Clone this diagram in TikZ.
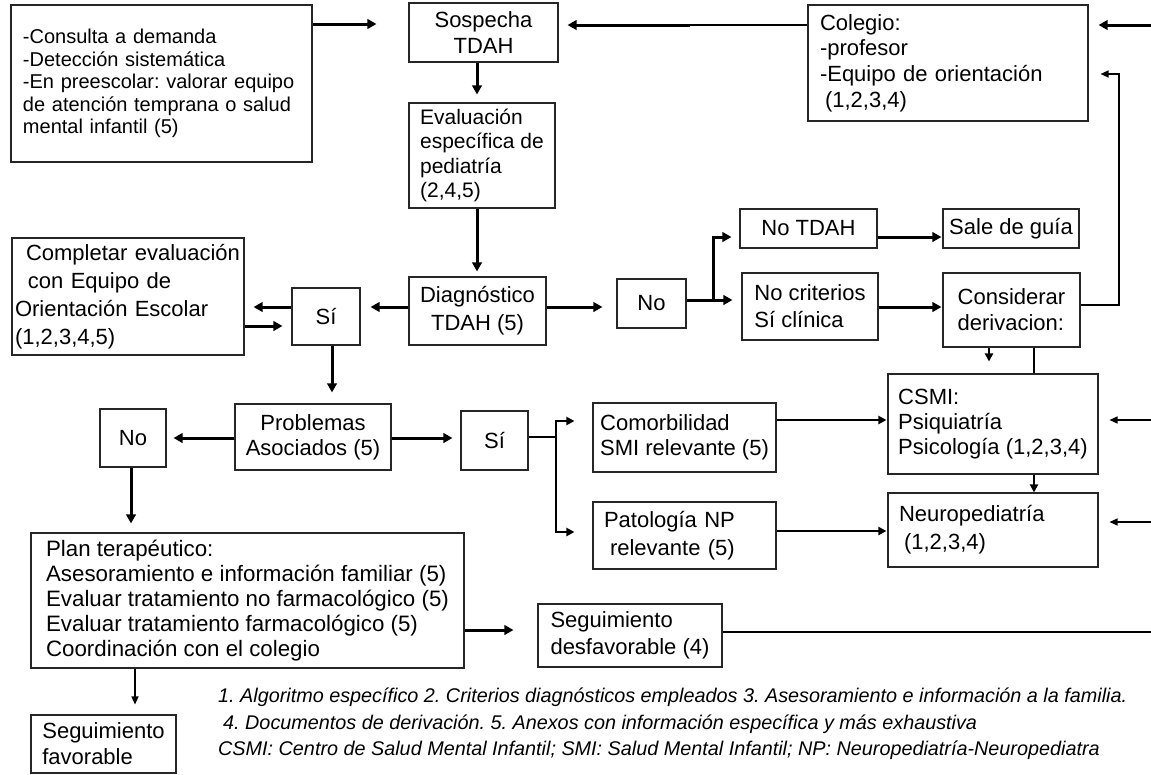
\documentclass[tikz,border=0pt]{standalone}
\usepackage{fontspec}
\setmainfont{Liberation Sans}
\usetikzlibrary{arrows.meta}
\frenchspacing
\begin{document}
\begin{tikzpicture}[x=1pt,y=-1pt,
  box/.style={draw=black!85, line width=1.1pt, inner sep=0pt, font=\fontsize{22}{25}\selectfont},
  conn/.style={line width=3pt, -{Triangle[length=9pt,width=9.5pt]}},
  midconn/.style={line width=2pt, -{Triangle[length=8pt,width=8pt]}},
  thinconn/.style={line width=1.3pt, -{Triangle[length=8pt,width=7pt]}},
  thinline/.style={line width=1.3pt},
  midline/.style={line width=2pt},
  note/.style={inner sep=0pt, font=\itshape\fontsize{19.8}{24}\selectfont}]
\useasboundingbox (0,0) rectangle (1151,774);
\fill[white] (0,0) rectangle (1151,774);

% level coordinates
\foreach \v in {24,25,74,237,300,305,307,326,420,421,437,438,522,531,532,630,632}
  \coordinate (h\v) at (0,\v);
\foreach \u in {131,135,332,477,556,713,989,1034}
  \coordinate (v\u) at (\u,0);
\coordinate (r25) at (1151,25);
\coordinate (r420) at (1151,420);
\coordinate (r522) at (1151,522);
\coordinate (r632) at (1151,632);
\coordinate (j25) at (690,25);
\coordinate (loopc) at (1119,74);
\coordinate (split) at (713,300);
\coordinate (split2) at (556,437);

% nodes
\node[box, minimum width=301pt, minimum height=157pt, inner xsep=12pt, text width=277pt, align=left, font=\fontsize{20}{22.5}\selectfont] (A) at (161.5,83.5)
  {-Consulta a demanda\\-Detección sistemática\\-En preescolar: valorar equipo\\de atención temprana o salud\\mental infantil (5)\par\vspace*{10pt}};
\node[box, minimum width=149pt, minimum height=59pt, align=center, font=\fontsize{22}{26}\selectfont] (Sosp) at (483.5,32.5) {Sospecha\\TDAH};
\node[box, minimum width=146pt, minimum height=105pt, align=left, font=\fontsize{21}{24.5}\selectfont] (Eval) at (482,155.5) {Evaluación\\específica de\\pediatría\\(2,4,5)};
\node[box, minimum width=280pt, minimum height=116pt, inner xsep=12pt, text width=256pt, align=left, font=\fontsize{22}{25.7}\selectfont] (Col) at (948,63)
  {Colegio:\\-profesor\\-Equipo de orientación\\\hspace*{5pt}(1,2,3,4)};
\node[box, minimum width=137pt, minimum height=68pt, align=center, font=\fontsize{22}{28}\selectfont] (Diag) at (477.5,311) {Diagnóstico\\TDAH (5)};
\node[box, minimum width=68pt, minimum height=57pt] (Si1) at (326,316.5) {Sí};
\node[box, minimum width=232pt, minimum height=117pt, inner xsep=3pt, text width=226pt, align=left, font=\fontsize{22}{28}\selectfont] (Comp) at (128,296.5)
  {\hspace*{11pt}Completar evaluación\\\hspace*{13pt}con Equipo de\\Orientación Escolar\\(1,2,3,4,5)};
\node[box, minimum width=69pt, minimum height=49pt] (No) at (651.5,303.5) {No};
\node[box, minimum width=137pt, minimum height=39pt] (NoTDAH) at (808.5,228.5) {No TDAH};
\node[box, minimum width=136pt, minimum height=39pt] (Sale) at (1011,228.5) {Sale de guía};
\node[box, minimum width=136pt, minimum height=67pt, align=left, font=\fontsize{22}{27}\selectfont] (NoCrit) at (810,306.5) {No criterios\\Sí clínica};
\node[box, minimum width=137pt, minimum height=74pt, align=left, font=\fontsize{22}{26}\selectfont] (Cons) at (1011.5,310) {Considerar\\derivacion:};
\node[box, minimum width=156pt, minimum height=66pt, align=center] (Prob) at (313,437) {Problemas\\Asociados (5)};
\node[box, minimum width=67pt, minimum height=59pt] (Si2) at (494.5,440.5) {Sí};
\node[box, minimum width=66pt, minimum height=58pt] (NoL) at (133,438) {No};
\node[box, minimum width=183pt, minimum height=69pt, align=left] (Comorb) at (684.5,437.5) {Comorbilidad\\SMI relevante (5)};
\node[box, minimum width=183pt, minimum height=67pt, inner xsep=11pt, text width=161pt, align=left, font=\fontsize{22}{28}\selectfont] (Patol) at (684.5,535.5) {Patología NP\\\hspace*{6pt}relevante (5)};
\node[box, minimum width=210pt, minimum height=100pt, align=left] (CSMI) at (993,424) {CSMI:\\Psiquiatría\\Psicología (1,2,3,4)};
\node[box, minimum width=210pt, minimum height=74pt, inner xsep=11pt, text width=188pt, align=left, font=\fontsize{22}{28}\selectfont] (Neuro) at (993,530) {Neuropediatría\\\hspace*{5pt}(1,2,3,4)};
\node[box, minimum width=433pt, minimum height=135pt, align=left, font=\fontsize{22.3}{25}\selectfont] (Plan) at (247.5,600.5)
  {Plan terapéutico:\\Asesoramiento e información familiar (5)\\Evaluar tratamiento no farmacológico (5)\\Evaluar tratamiento farmacológico (5)\\Coordinación con el colegio};
\node[box, minimum width=184pt, minimum height=63pt, align=left, font=\fontsize{22}{27}\selectfont] (SegD) at (630,635.5) {Seguimiento\\desfavorable (4)};
\node[box, minimum width=145pt, minimum height=58pt, align=left, font=\fontsize{22}{26}\selectfont] (SegF) at (103.5,744) {Seguimiento\\favorable};

% footnotes
\node[note, anchor=west] (fn1) at (218,697) {1. Algoritmo específico 2. Criterios diagnósticos empleados 3. Asesoramiento e información a la familia.};
\node[note, anchor=west] (fn2) at (218,724) {\hspace*{5pt}4. Documentos de derivación. 5. Anexos con información específica y más exhaustiva};
\node[note, anchor=west] (fn3) at (218,750) {CSMI: Centro de Salud Mental Infantil; SMI: Salud Mental Infantil; NP: Neuropediatría-Neuropediatra};

% connectors
\draw[conn, shorten >=32pt] (A.east |- h24) -- (Sosp.west |- h24);
\draw[thinline] (Col.west |- h25) -- (j25);
\draw[conn, shorten >=9pt] (j25) -- (Sosp.east |- h25);
\draw[conn, shorten >=10pt] (r25) -- (Col.east |- h25);
\draw[thinconn, shorten >=12pt] (Cons.east |- h305) -| (loopc) -- (Col.east |- h74);
\draw[conn, shorten >=8pt] (Sosp.south -| v477) -- (Eval.north -| v477);
\draw[conn, shorten >=5pt] (Eval.south -| v477) -- (Diag.north -| v477);
\draw[conn, shorten >=10pt] (Diag.west |- h307) -- (Si1.east |- h307);
\draw[conn, shorten >=9pt] (Si1.west |- h307) -- (Comp.east |- h307);
\draw[conn, shorten >=9pt] (Comp.east |- h326) -- (Si1.west |- h326);
\draw[conn, shorten >=11pt] (Si1.south -| v332) -- (Prob.north -| v332);
\draw[conn, shorten >=14pt] (Diag.east |- h307) -- (No.west |- h307);
\draw[conn, shorten >=9pt] (No.east |- h300) -- (NoCrit.west |- h300);
\draw[conn, shorten >=8pt] (split) |- (NoTDAH.west |- h237);
\draw[conn, shorten >=1pt] (NoTDAH.east |- h237) -- (Sale.west |- h237);
\draw[conn, shorten >=1pt] (NoCrit.east |- h307) -- (Cons.west |- h307);
\draw[midconn, shorten >=12pt] (Cons.south -| v989) -- (CSMI.north -| v989);
\draw[thinline] (Cons.south -| v1034) -- (CSMI.north -| v1034);
\draw[conn, shorten >=8pt] (Prob.east |- h438) -- (Si2.west |- h438);
\draw[conn, shorten >=7pt] (Prob.west |- h438) -- (NoL.east |- h438);
\draw[conn, shorten >=9pt] (NoL.south -| v131) -- (Plan.north -| v131);
\draw[midline] (Si2.east |- h437) -- (split2);
\draw[midconn, shorten >=18pt] (split2) |- (Comorb.west |- h421);
\draw[midconn, shorten >=18pt] (split2) |- (Patol.west |- h532);
\draw[midconn, shorten >=1pt] (Comorb.east |- h420) -- (CSMI.west |- h420);
\draw[midconn, shorten >=1pt] (Patol.east |- h531) -- (Neuro.west |- h531);
\draw[midconn] (CSMI.south -| v1034) -- (Neuro.north -| v1034);
\draw[thinconn, shorten >=11pt] (r420) -- (CSMI.east |- h420);
\draw[thinconn, shorten >=11pt] (r522) -- (Neuro.east |- r522);
\draw[conn, shorten >=24pt] (Plan.east |- h630) -- (SegD.west |- h630);
\draw[thinline] (SegD.east |- h632) -- (r632);
\draw[thinconn, shorten >=10pt] (Plan.south -| v135) -- (SegF.north -| v135);
\end{tikzpicture}
\end{document}
